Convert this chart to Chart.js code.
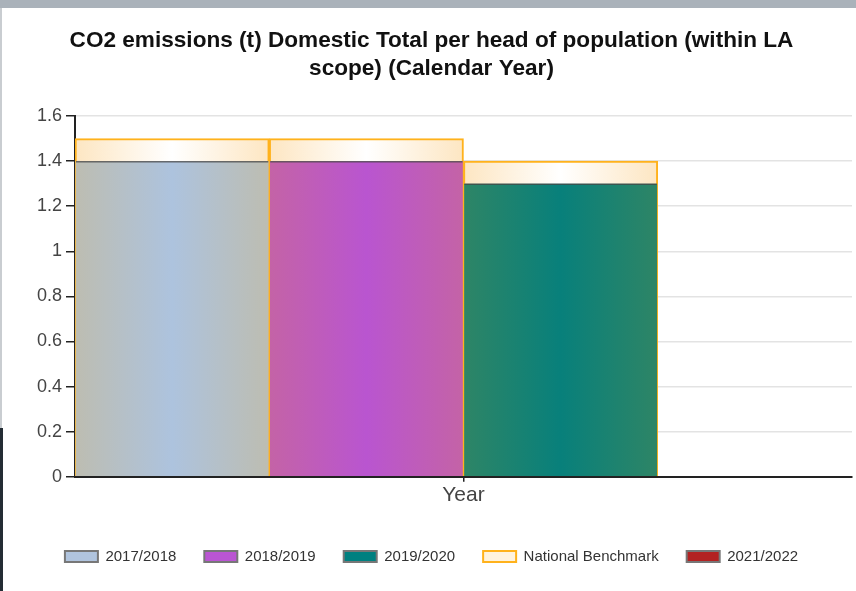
<!DOCTYPE html>
<html>
<head>
<meta charset="utf-8">
<script src="https://cdn.jsdelivr.net/npm/chart.js@4/dist/chart.umd.min.js"></script>
<style>
  body { margin: 0; background: #fff; width: 856px; height: 591px; overflow: hidden; position: relative; }
  #topbar { position: absolute; left: 0; top: 0; width: 856px; height: 8px; background: #aab2ba; }
  #leftlight { position: absolute; left: 0; top: 8px; width: 2px; height: 420px; background: #c9cdd1; }
  #leftdark { position: absolute; left: 0; top: 428px; width: 3px; height: 163px; background: #232c34; }
  #wrap { position: absolute; left: 3px; top: 8px; width: 853px; height: 583px; }
</style>
</head>
<body>
<div id="topbar"></div>
<div id="leftlight"></div>
<div id="leftdark"></div>
<div id="wrap"><canvas id="chart"></canvas></div>
<script>
// =======================
// DATA
// =======================

const years = ["2017/2018", "2018/2019", "2019/2020", "2021/2022"];
const yearValues = [1.4, 1.4, 1.3, null];
const benchmarkValues = [1.5, 1.5, 1.4, null];
const axisLabel = ["Year"];

// edge colour, centre colour, legend colour
const yearColours = [
  ["#bdbdb1", "#adc3de", "#b0c4de"],
  ["#c463a6", "#b955d0", "#ba55d3"],
  ["#2e8566", "#08807b", "#008080"],
  ["#b22222", "#b22222", "#b22222"]
];
const benchColours = ["#fde6c2", "#ffffff", "#fff3de"];
const orange = "#ffb21c";

// =======================
// HELPERS
// =======================

function barGradient(colours) {
  return function (c) {
    const chart = c.chart;
    if (!chart.chartArea || c.dataIndex == null) return colours[1];
    const xs = chart.scales.x;
    const cx = xs.getPixelForValue(c.dataIndex);
    const hw = (xs.right - xs.left) / years.length / 2;
    const g = chart.ctx.createLinearGradient(cx - hw, 0, cx + hw, 0);
    g.addColorStop(0, colours[0]);
    g.addColorStop(0.5, colours[1]);
    g.addColorStop(1, colours[0]);
    return g;
  };
}

// dark line on top of each year bar
const topLine = {
  id: "topLine",
  afterDatasetsDraw(chart) {
    const ctx = chart.ctx;
    chart.data.datasets.forEach((ds, i) => {
      if (ds.isBenchmark) return;
      chart.getDatasetMeta(i).data.forEach((el, j) => {
        if (ds.data[j] == null) return;
        ctx.save();
        ctx.strokeStyle = "rgba(70,70,70,0.75)";
        ctx.lineWidth = 1.5;
        ctx.beginPath();
        ctx.moveTo(el.x - el.width / 2 + 1, el.y + 0.5);
        ctx.lineTo(el.x + el.width / 2 - 1, el.y + 0.5);
        ctx.stroke();
        ctx.restore();
      });
    });
  }
};

// =======================
// DATASETS
// =======================

let datasets = years.map((name, i) => ({
  label: name,
  data: yearValues.map((v, j) => (j === i ? v : null)),
  backgroundColor: barGradient(yearColours[i]),
  borderColor: orange,
  borderWidth: { left: 1, right: 1, top: 0, bottom: 0 },
  borderSkipped: false,
  legendFill: yearColours[i][2],
  legendBorder: "#777",
  order: 0
}));

datasets.splice(3, 0, {
  label: "National Benchmark",
  isBenchmark: true,
  data: benchmarkValues,
  backgroundColor: barGradient(benchColours),
  borderColor: orange,
  borderWidth: 2,
  legendFill: benchColours[2],
  legendBorder: orange,
  order: 1
});

function legendLabels(chart) {
  return chart.data.datasets.map((ds, i) => ({
    text: ds.label,
    fillStyle: ds.legendFill,
    strokeStyle: ds.legendBorder,
    lineWidth: 2,
    fontColor: "#333",
    hidden: false,
    datasetIndex: i
  }));
}

// =======================
// CHART
// =======================

new Chart(document.getElementById("chart"), {
  type: "bar",
  data: { labels: years, datasets: datasets },
  plugins: [topLine],
  options: {
    responsive: true,
    maintainAspectRatio: false,
    animation: false,
    datasets: {
      bar: { grouped: false, barPercentage: 1, categoryPercentage: 1 }
    },
    layout: { padding: { left: 8, right: 4, top: 0, bottom: 17 } },
    plugins: {
      title: {
        display: true,
        text: ["CO2 emissions (t) Domestic Total per head of population (within LA", "scope) (Calendar Year)"],
        color: "#111",
        font: { family: "Liberation Sans, Arial, sans-serif", size: 22.6, weight: "bold", lineHeight: 1.24 },
        padding: { top: 19, bottom: 33 }
      },
      legend: {
        position: "bottom",
        labels: {
          boxWidth: 33,
          boxHeight: 11,
          padding: 28,
          color: "#333",
          font: { family: "Liberation Sans, Arial, sans-serif", size: 15 },
          generateLabels: legendLabels
        }
      },
      tooltip: { enabled: false }
    },
    scales: {
      x: { display: false },
      x2: {
        type: "category",
        labels: axisLabel,
        position: "bottom",
        offset: true,
        grid: { drawOnChartArea: false, offset: false, tickLength: 5, color: "#222", lineWidth: 1.5 },
        border: { color: "#222", width: 2 },
        ticks: { color: "#444", padding: 1, font: { family: "Liberation Sans, Arial, sans-serif", size: 21 } },
        afterFit: s => { s.height += 12; }
      },
      y: {
        min: 0,
        max: 1.6,
        ticks: {
          stepSize: 0.2,
          color: "#444",
          padding: 4,
          font: { family: "Liberation Sans, Arial, sans-serif", size: 18 },
          callback: v => String(+v.toFixed(1))
        },
        grid: { color: "#e3e3e3", lineWidth: 1.5, tickLength: 9, tickColor: "#222", tickWidth: 1.5 },
        border: { color: "#222", width: 2 },
        afterFit: s => { s.width = 64; }
      }
    }
  }
});
</script>
</body>
</html>
